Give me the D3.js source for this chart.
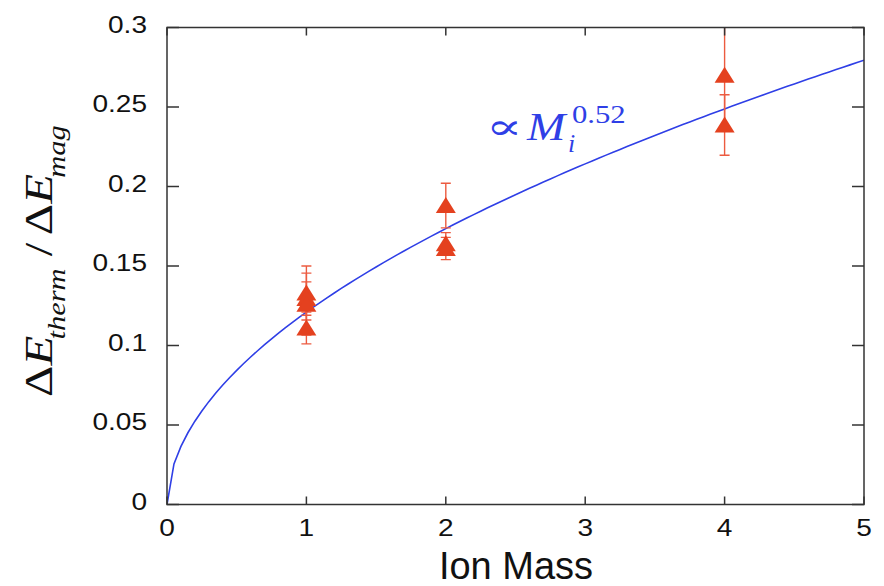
<!DOCTYPE html>
<html>
<head>
<meta charset="utf-8">
<script src="https://cdn.jsdelivr.net/npm/d3@7"></script>
<style>
  html, body { margin: 0; padding: 0; background: #fff; }
  svg { display: block; }
</style>
</head>
<body>
<svg id="chart" width="884" height="586"></svg>
<script>
// Measured energy ratio vs ion mass, with error bars
const ionMass   = [1, 1, 1, 1, 2, 2, 2, 4, 4];
const ratio     = [0.133, 0.1295, 0.126, 0.111, 0.188, 0.164, 0.161, 0.270, 0.2387];
const ratioErr  = [0.017, 0.0105, 0.0195, 0.010, 0.014, 0.007, 0.007, 0.032, 0.019];

// Power-law fit  ratio = fitCoef * M^fitExp
const fitCoef = 0.121;
const fitExp = 0.52;
const fitStep = 0.05;

const xTicks = [0, 1, 2, 3, 4, 5];
const yTicks = [0, 0.05, 0.1, 0.15, 0.2, 0.25, 0.3];
const yTickLabels = ["0", "0.05", "0.1", "0.15", "0.2", "0.25", "0.3"];

const plotL = 167, plotR = 864, plotT = 27.5, plotB = 504.5;

const svg = d3.select("#chart");
const x = d3.scaleLinear().domain([0, 5]).range([plotL, plotR]);
const y = d3.scaleLinear().domain([0, 0.3]).range([plotB, plotT]);

const red = "#e4411f";
const redBar = "#ec5b40";
const blue = "#2f3fe6";

svg.append("defs").append("clipPath").attr("id", "plotClip")
  .append("rect").attr("x", plotL).attr("y", plotT)
  .attr("width", plotR - plotL).attr("height", plotB - plotT);

// Fit curve
const fitX = d3.range(0, 5 + fitStep / 2, fitStep);
const line = d3.line().x(d => x(d)).y(d => y(fitCoef * Math.pow(d, fitExp)));
svg.append("path")
  .datum(fitX)
  .attr("d", line)
  .attr("fill", "none")
  .attr("stroke", blue)
  .attr("stroke-width", 1.6)
  .attr("clip-path", "url(#plotClip)");

// Error bars
const pts = ionMass.map((m, i) => ({ m, v: ratio[i], e: ratioErr[i] }));
const eb = svg.append("g").attr("clip-path", "url(#plotClip)")
  .attr("stroke", redBar).attr("stroke-width", 1.4).attr("fill", "none");
const capW = 5;
pts.forEach(p => {
  const cx = x(p.m);
  eb.append("line").attr("x1", cx).attr("x2", cx)
    .attr("y1", y(p.v + p.e)).attr("y2", y(p.v - p.e));
  [p.v + p.e, p.v - p.e].forEach(v => {
    eb.append("line").attr("x1", cx - capW).attr("x2", cx + capW)
      .attr("y1", y(v)).attr("y2", y(v));
  });
});

// Triangle markers
const tri = "M0,-8.5L10,7.5L-10,7.5Z";
svg.append("g").selectAll("path").data(pts).join("path")
  .attr("d", tri)
  .attr("transform", d => `translate(${x(d.m)},${y(d.v)})`)
  .attr("fill", red);

// Frame and inward ticks on all sides
const frame = svg.append("g").attr("stroke", "#333").attr("stroke-width", 1.5);
frame.append("rect").attr("x", plotL).attr("y", plotT)
  .attr("width", plotR - plotL).attr("height", plotB - plotT).attr("fill", "none");
const yTickLen = 12, xTickLen = 8;
yTicks.forEach(t => {
  frame.append("line").attr("x1", plotL).attr("x2", plotL + yTickLen).attr("y1", y(t)).attr("y2", y(t));
  frame.append("line").attr("x1", plotR).attr("x2", plotR - yTickLen).attr("y1", y(t)).attr("y2", y(t));
});
xTicks.forEach(t => {
  frame.append("line").attr("x1", x(t)).attr("x2", x(t)).attr("y1", plotB).attr("y2", plotB - xTickLen);
  frame.append("line").attr("x1", x(t)).attr("x2", x(t)).attr("y1", plotT).attr("y2", plotT + xTickLen);
});

// Tick labels (slightly widened glyphs)
const tickFont = "'Liberation Sans', Arial, Helvetica, sans-serif";
const widen = 1.22;
svg.append("g").selectAll("text").data(yTicks).join("text")
  .attr("transform", d => `translate(147,${y(d) + 5}) scale(${widen},1)`)
  .attr("text-anchor", "end")
  .attr("font-family", tickFont).attr("font-size", 23).attr("fill", "#111")
  .text((d, i) => yTickLabels[i]);
svg.append("g").selectAll("text").data(xTicks).join("text")
  .attr("transform", d => `translate(${x(d)},536) scale(${widen},1)`)
  .attr("text-anchor", "middle")
  .attr("font-family", tickFont).attr("font-size", 23).attr("fill", "#111")
  .text(d => d);

// X axis title
svg.append("text")
  .attr("x", 516).attr("y", 579)
  .attr("text-anchor", "middle")
  .attr("font-family", tickFont).attr("font-size", 38).attr("fill", "#111")
  .text("Ion Mass");

// Y axis title (rotated, math style)
const serif = "'Liberation Serif', 'DejaVu Serif', serif";
const yt = svg.append("text")
  .attr("transform", "translate(52,397) rotate(-90) scale(1.22,1)")
  .attr("font-family", serif).attr("font-size", 40).attr("fill", "#111");
yt.append("tspan").text("Δ");
yt.append("tspan").attr("font-style", "italic").text("E");
yt.append("tspan").attr("font-style", "italic").attr("font-size", 25).attr("dy", 13).attr("dx", -3).text("therm");
yt.append("tspan").attr("dy", -13).attr("dx", 10).text("/");
yt.append("tspan").attr("dx", 6).text("Δ");
yt.append("tspan").attr("font-style", "italic").text("E");
yt.append("tspan").attr("font-style", "italic").attr("font-size", 25).attr("dy", 13).attr("dx", -3).text("mag");

// Fit annotation
const ann = svg.append("g").attr("fill", blue).attr("font-family", serif);
ann.append("text").attr("transform", "translate(486,139) scale(1.5,1)").attr("font-size", 36).text("∝");
ann.append("text").attr("transform", "translate(527,140) scale(1.15,1)").attr("font-size", 40).attr("font-style", "italic").text("M");
ann.append("text").attr("transform", "translate(572,123) scale(1.18,1)").attr("font-size", 26).text("0.52");
ann.append("text").attr("transform", "translate(568,152)").attr("font-size", 26).attr("font-style", "italic").text("i");
</script>
</body>
</html>
